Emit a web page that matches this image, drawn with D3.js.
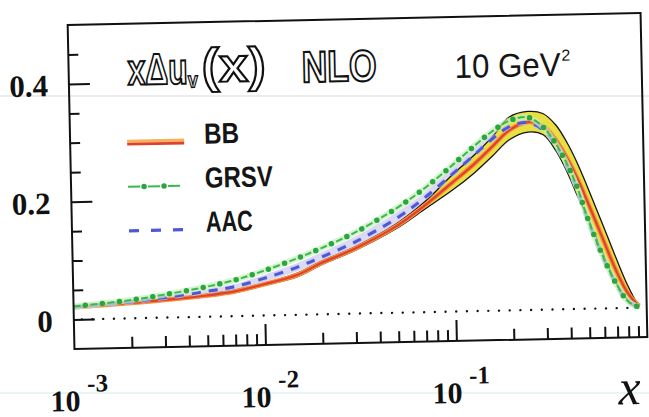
<!DOCTYPE html>
<html>
<head>
<meta charset="utf-8">
<script src="https://cdn.jsdelivr.net/npm/d3@7"></script>
<style>
  html, body { margin: 0; padding: 0; background: #fff; }
  svg { display: block; }
</style>
</head>
<body>
<svg id="chart" width="649" height="417"></svg>
<script>
// Momentum fraction grid shared by all curves
const xs = [0.001, 0.002, 0.003, 0.005, 0.007, 0.01, 0.015, 0.02, 0.03, 0.05, 0.07,
            0.1, 0.13, 0.16, 0.2, 0.25, 0.3, 0.35, 0.4, 0.45, 0.5, 0.6, 0.7, 0.8, 0.9, 0.92];

// BB central fit with its uncertainty band
const bbCentral = [0.021, 0.026, 0.030, 0.036, 0.042, 0.053, 0.068, 0.087, 0.110, 0.147, 0.180,
                   0.220, 0.250, 0.277, 0.306, 0.319, 0.312, 0.287, 0.255, 0.220, 0.184, 0.118, 0.063, 0.025, 0.005, 0.003];
const bbUpper   = [0.022, 0.027, 0.031, 0.038, 0.044, 0.055, 0.071, 0.090, 0.113, 0.151, 0.186,
                   0.233, 0.265, 0.293, 0.328, 0.337, 0.333, 0.313, 0.282, 0.247, 0.210, 0.143, 0.085, 0.038, 0.006, 0.004];
const bbLower   = [0.020, 0.025, 0.029, 0.034, 0.040, 0.051, 0.065, 0.084, 0.107, 0.143, 0.174,
                   0.207, 0.235, 0.261, 0.290, 0.302, 0.297, 0.268, 0.230, 0.189, 0.157, 0.093, 0.042, 0.013, 0.003, 0.002];

// GRSV parametrisation
const grsv = [0.022, 0.031, 0.039, 0.051, 0.061, 0.076, 0.096, 0.112, 0.137, 0.177, 0.209,
              0.249, 0.280, 0.303, 0.322, 0.327, 0.310, 0.280, 0.244, 0.203, 0.155, 0.087, 0.040, 0.011, 0.002, 0.002];

// AAC parametrisation and its band
const aac   = [0.021, 0.028, 0.034, 0.043, 0.050, 0.063, 0.081, 0.097, 0.121, 0.160, 0.193,
               0.234, 0.265, 0.290, 0.312, 0.318, 0.305, 0.277, 0.240, 0.199, 0.153, 0.086, 0.040, 0.011, 0.002, 0.002];
const aacHi = [0.022, 0.030, 0.036, 0.046, 0.054, 0.069, 0.088, 0.105, 0.130, 0.170, 0.202,
               0.244, 0.276, 0.300, 0.318, 0.323, 0.310, 0.282, 0.244, 0.203, 0.157, 0.090, 0.042, 0.012, 0.003, 0.002];
const aacLo = [0.020, 0.026, 0.031, 0.038, 0.045, 0.057, 0.074, 0.091, 0.114, 0.152, 0.185,
               0.226, 0.256, 0.281, 0.306, 0.313, 0.300, 0.272, 0.236, 0.195, 0.149, 0.082, 0.038, 0.010, 0.002, 0.001];

// Axis ticks and labels
const yMajor = [0, 0.2, 0.4];
const yMinor = [0.05, 0.1, 0.15, 0.25, 0.3, 0.35, 0.45];
const yLabels = ["0", "0.2", "0.4"];
const xMajor = [0.01, 0.1];
const xMinor = [2, 3, 4, 5, 6, 7, 8, 9].flatMap(m => [m * 1e-3, m * 1e-2, m * 1e-1]);
const xDecades = [0.001, 0.01, 0.1];
const xExponents = ["-3", "-2", "-1"];

const legendNames = ["BB", "GRSV", "AAC"];

const svg = d3.select("#chart");

// faint scanner streaks across the sheet
svg.append("line").attr("x1", 0).attr("x2", 649).attr("y1", 96).attr("y2", 96)
  .attr("stroke", "#ececec").attr("stroke-width", 2);
svg.append("line").attr("x1", 0).attr("x2", 649).attr("y1", 393).attr("y2", 393)
  .attr("stroke", "#def3f3").attr("stroke-width", 1.5);

// the printed figure sits slightly tilted on the page
const g = svg.append("g").attr("transform", "rotate(-1.2,357.5,181)");

const x = d3.scaleLog().domain([1e-3, 1]).range([71, 644]);
const y = d3.scaleLinear().domain([-0.05, 0.5]).range([343, 19]);

const smooth = d3.curveCatmullRom.alpha(0.5);
const pts = vals => vals.map((v, i) => [xs[i], v]);
const line = d3.line().x(d => x(d[0])).y(d => y(d[1])).curve(smooth);
const area = d3.area().x(d => x(d.x)).y0(d => y(d.lo)).y1(d => y(d.hi)).curve(smooth);
const band = (lo, hi) => xs.map((xv, i) => ({ x: xv, lo: lo[i], hi: hi[i] }));

// ticks: bottom axis (pointing up), left axis (pointing right)
function tickAxis(axis, values, size, transform) {
  const a = g.append("g").attr("transform", transform)
    .call(axis.tickValues(values).tickSizeInner(-size).tickSizeOuter(0).tickFormat(""));
  a.select(".domain").remove();
  a.selectAll(".tick line").attr("stroke", "#111").attr("stroke-width", 2);
}
tickAxis(d3.axisBottom(x), xMajor, 21, "translate(0,343)");
tickAxis(d3.axisBottom(x), xMinor, 11, "translate(0,343)");
tickAxis(d3.axisLeft(y), yMajor, 21, "translate(71,0)");
tickAxis(d3.axisLeft(y), yMinor, 10, "translate(71,0)");

// zero reference
g.append("line").attr("x1", x(1e-3)).attr("x2", x(1)).attr("y1", y(0)).attr("y2", y(0))
  .attr("stroke", "#111").attr("stroke-width", 2.4)
  .attr("stroke-dasharray", "0 10.7").attr("stroke-linecap", "round").attr("stroke-dashoffset", -8);

// AAC band
g.append("path").attr("d", area(band(aacLo, aacHi))).attr("fill", "#dcd9f3");

// BB band and edges
g.append("path").attr("d", area(band(bbLower, bbUpper))).attr("fill", "#e9df40");
g.append("path").attr("d", line(pts(bbUpper))).attr("fill", "none").attr("stroke", "#151515").attr("stroke-width", 1.3);
g.append("path").attr("d", line(pts(bbLower))).attr("fill", "none").attr("stroke", "#151515").attr("stroke-width", 1.3);
g.append("path").attr("d", line(pts(bbCentral))).attr("fill", "none").attr("stroke", "#f4923a").attr("stroke-width", 4.6);
g.append("path").attr("d", line(pts(bbCentral))).attr("fill", "none").attr("stroke", "#e0402e").attr("stroke-width", 2.2);

// AAC dashed
g.append("path").attr("d", line(pts(aac))).attr("fill", "none").attr("stroke", "#b9c4f4").attr("stroke-width", 5)
  .attr("stroke-dasharray", "9 8").attr("opacity", 0.7);
g.append("path").attr("d", line(pts(aac))).attr("fill", "none").attr("stroke", "#5057d6").attr("stroke-width", 3)
  .attr("stroke-dasharray", "9 8");

// GRSV dash-dot
g.append("path").attr("d", line(pts(grsv))).attr("fill", "none").attr("stroke", "#c6efbf").attr("stroke-width", 6).attr("opacity", 0.7);
g.append("path").attr("d", line(pts(grsv))).attr("fill", "none").attr("stroke", "#3cb84a").attr("stroke-width", 2)
  .attr("stroke-dasharray", "7 10");
g.append("path").attr("d", line(pts(grsv))).attr("fill", "none").attr("stroke", "#28a83c").attr("stroke-width", 5.5)
  .attr("stroke-linecap", "round").attr("stroke-dasharray", "0 17").attr("stroke-dashoffset", 5);

// frame
g.append("rect").attr("x", 71).attr("y", 19).attr("width", 573).attr("height", 324)
  .attr("fill", "none").attr("stroke", "#111").attr("stroke-width", 2);

// y labels
g.selectAll(".ylab").data(yMajor).enter().append("text")
  .attr("x", 50).attr("y", d => y(d)).attr("dy", "0.38em")
  .attr("text-anchor", "end")
  .attr("font-family", "Liberation Serif, serif").attr("font-weight", "bold").attr("font-size", 31)
  .attr("fill", "#111")
  .text((d, i) => yLabels[i]);

// x labels: 10 with exponent
xDecades.forEach((d, i) => {
  g.append("text").attr("x", x(d) + 5).attr("y", 405).attr("text-anchor", "end")
    .attr("font-family", "Liberation Serif, serif").attr("font-weight", "bold").attr("font-size", 30)
    .attr("fill", "#111").text("10");
  g.append("text").attr("x", x(d) + 12).attr("y", 386)
    .attr("font-family", "Liberation Serif, serif").attr("font-weight", "bold").attr("font-size", 25)
    .attr("fill", "#111").text(xExponents[i]);
});
g.append("text").attr("x", 614).attr("y", 410)
  .attr("font-family", "Liberation Serif, serif").attr("font-style", "italic").attr("font-size", 50)
  .attr("fill", "#111").text("x");

// title (outlined lettering)
const outline = sel => sel.attr("font-family", "Liberation Sans, Arial, sans-serif").attr("font-weight", "bold")
  .attr("fill", "#fff").attr("stroke", "#111").attr("stroke-width", 2.1);
g.append("text").attr("x", 130).attr("y", 80).attr("font-size", 44)
  .attr("textLength", 60).attr("lengthAdjust", "spacingAndGlyphs").call(outline).text("x\u0394u");
g.append("text").attr("x", 190).attr("y", 84).attr("font-size", 22)
  .attr("textLength", 10).attr("lengthAdjust", "spacingAndGlyphs").call(outline).attr("stroke-width", 1.4).text("v");
g.append("text").attr("x", 204).attr("y", 79).attr("font-size", 48)
  .attr("textLength", 64).attr("lengthAdjust", "spacingAndGlyphs").call(outline).text("(x)");
g.append("text").attr("x", 304).attr("y", 81).attr("font-size", 44)
  .attr("textLength", 75).attr("lengthAdjust", "spacingAndGlyphs").call(outline).text("NLO");

g.append("text").attr("x", 457).attr("y", 80).attr("font-size", 33)
  .attr("font-family", "Liberation Sans, Arial, sans-serif").attr("fill", "#151515")
  .attr("textLength", 106).attr("lengthAdjust", "spacingAndGlyphs").text("10 GeV");
g.append("text").attr("x", 564).attr("y", 65).attr("font-size", 16)
  .attr("font-family", "Liberation Sans, Arial, sans-serif").attr("fill", "#151515").text("2");

// legend
const legY = [138, 182, 226];
const legW = [35, 68, 47];
legendNames.forEach((name, i) => {
  g.append("text").attr("x", 205).attr("y", legY[i] + 2.5).attr("font-size", 29)
    .attr("font-family", "Liberation Sans, Arial, sans-serif").attr("font-weight", "bold").attr("fill", "#151515")
    .attr("textLength", legW[i]).attr("lengthAdjust", "spacingAndGlyphs").text(name);
});
g.append("line").attr("x1", 128).attr("x2", 185).attr("y1", legY[0] - 1).attr("y2", legY[0] - 1)
  .attr("stroke", "#f6b060").attr("stroke-width", 4);
g.append("line").attr("x1", 128).attr("x2", 185).attr("y1", legY[0] + 1.5).attr("y2", legY[0] + 1.5)
  .attr("stroke", "#e0402e").attr("stroke-width", 2.6);
g.append("line").attr("x1", 128).attr("x2", 182).attr("y1", legY[1]).attr("y2", legY[1])
  .attr("stroke", "#3cb84a").attr("stroke-width", 2).attr("stroke-dasharray", "12 8");
g.append("line").attr("x1", 128).attr("x2", 182).attr("y1", legY[1]).attr("y2", legY[1])
  .attr("stroke", "#28a83c").attr("stroke-width", 5.5).attr("stroke-linecap", "round")
  .attr("stroke-dasharray", "0 20").attr("stroke-dashoffset", 4);
g.append("line").attr("x1", 128).attr("x2", 182).attr("y1", legY[2]).attr("y2", legY[2])
  .attr("stroke", "#5057d6").attr("stroke-width", 3.2).attr("stroke-dasharray", "10 12");
</script>
</body>
</html>
